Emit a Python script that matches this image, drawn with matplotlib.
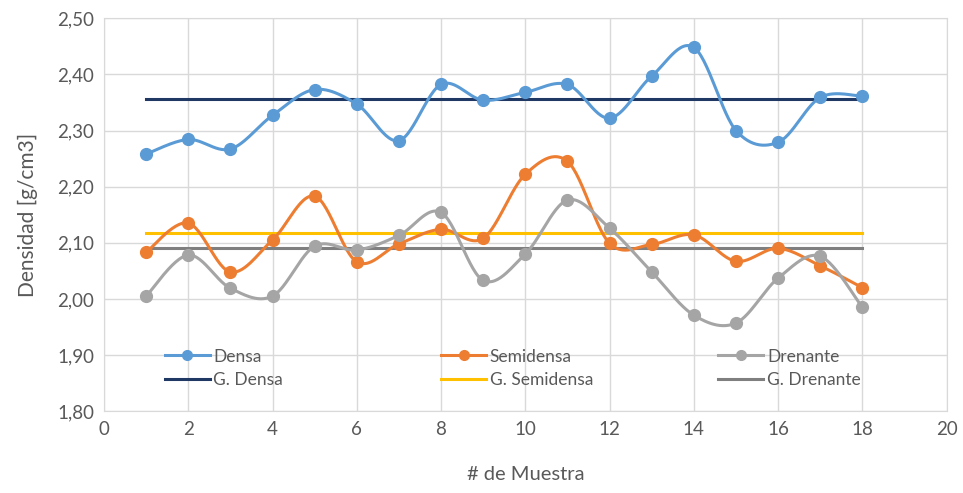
import numpy as np
import matplotlib
matplotlib.use("Agg")
import matplotlib.pyplot as plt
from matplotlib.legend import Legend
from matplotlib.ticker import FuncFormatter, MultipleLocator

muestras = list(range(1, 19))
densa = [2.258, 2.284, 2.267, 2.327, 2.373, 2.347, 2.282, 2.382, 2.354, 2.368,
         2.382, 2.322, 2.397, 2.448, 2.300, 2.279, 2.359, 2.361]
semidensa = [2.083, 2.135, 2.048, 2.105, 2.183, 2.066, 2.098, 2.124, 2.108, 2.222,
             2.245, 2.099, 2.097, 2.114, 2.067, 2.090, 2.059, 2.020]
drenante = [2.005, 2.078, 2.019, 2.005, 2.094, 2.087, 2.113, 2.154, 2.033, 2.080,
            2.176, 2.126, 2.048, 1.971, 1.957, 2.037, 2.076, 1.985]
g_densa = 2.356
g_semidensa = 2.117
g_drenante = 2.090

plt.rcParams['font.family'] = ['Lato', 'DejaVu Sans']


def suavizar(x, y, n=30):
    # curva tipo excel (bezier con puntos de control catmull-rom)
    x = np.asarray(x, float)
    y = np.asarray(y, float)
    px = np.concatenate([[x[0]], x, [x[-1]]])
    py = np.concatenate([[y[0]], y, [y[-1]]])
    xs, ys = [], []
    t = np.linspace(0, 1, n)
    for i in range(1, len(px) - 2):
        p0 = np.array([px[i], py[i]])
        p3 = np.array([px[i + 1], py[i + 1]])
        p1 = p0 + (np.array([px[i + 1], py[i + 1]]) - np.array([px[i - 1], py[i - 1]])) / 6
        p2 = p3 - (np.array([px[i + 2], py[i + 2]]) - np.array([px[i], py[i]])) / 6
        b = ((1 - t) ** 3)[:, None] * p0 + (3 * (1 - t) ** 2 * t)[:, None] * p1 \
            + (3 * (1 - t) * t ** 2)[:, None] * p2 + (t ** 3)[:, None] * p3
        xs.extend(b[:, 0])
        ys.extend(b[:, 1])
    return xs, ys


fig = plt.figure(figsize=(9.63, 4.93), dpi=100)
ax = fig.add_axes([0.108, 0.166, 0.875, 0.797])

series = [("Densa", densa, "#5B9BD5"),
          ("Semidensa", semidensa, "#ED7D31"),
          ("Drenante", drenante, "#A5A5A5")]
guias = [("G. Densa", g_densa, "#203864"),
         ("G. Semidensa", g_semidensa, "#FFC000"),
         ("G. Drenante", g_drenante, "#7F7F7F")]

columnas = []
for (nombre, vals, color), (gnombre, gval, gcolor) in zip(series, guias):
    sx, sy = suavizar(muestras, vals)
    ax.plot(sx, sy, color=color, lw=2.2, zorder=3)
    ax.plot(muestras, vals, 'o', color=color, ms=8.5, zorder=4)
    h1, = ax.plot([], [], '-o', color=color, lw=2.2, ms=7, label=nombre)
    h2, = ax.plot([muestras[0], muestras[-1]], [gval, gval], color=gcolor, lw=2.2,
                  zorder=2, label=gnombre)
    columnas.append(([h1, h2], [nombre, gnombre]))

ax.set_xlim(0, 20)
ax.set_ylim(1.80, 2.50)
ax.xaxis.set_major_locator(MultipleLocator(2))
ax.yaxis.set_major_locator(MultipleLocator(0.1))
ax.yaxis.set_major_formatter(FuncFormatter(lambda v, p: f"{v:.2f}".replace('.', ',')))
ax.grid(True, color="#D9D9D9", lw=1)
ax.set_axisbelow(True)
for s in ax.spines.values():
    s.set_color("#D9D9D9")
ax.tick_params(length=0, labelsize=13.5, colors="#595959", pad=7)
ax.set_xlabel("# de Muestra", fontsize=14.5, color="#595959", labelpad=20)
ax.set_ylabel("Densidad [g/cm3]", fontsize=15, color="#595959", labelpad=14)

# leyenda en 3 columnas de igual ancho, como excel
for (hs, labels), xpos in zip(columnas, [0.072, 0.400, 0.729]):
    leg = Legend(ax, hs, labels, loc="lower left", bbox_to_anchor=(xpos, 0.058),
                 frameon=False, fontsize=12.5, labelcolor="#595959",
                 handlelength=2.6, handletextpad=0.2, labelspacing=0.45,
                 borderaxespad=0, borderpad=0)
    ax.add_artist(leg)

fig.savefig("out.png", dpi=100)
